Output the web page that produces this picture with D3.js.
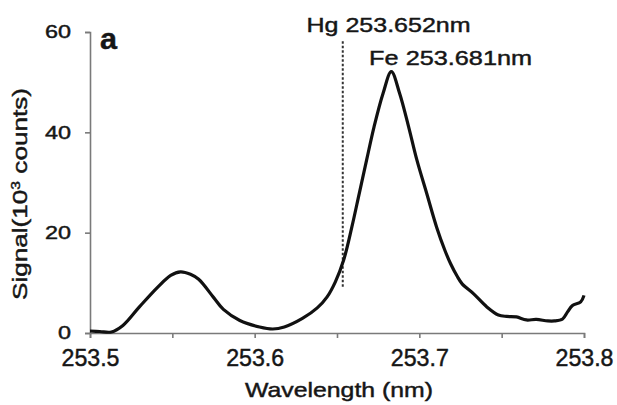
<!DOCTYPE html>
<meta charset="utf-8">
<head>
  <script src="https://d3js.org/d3.v7.min.js"></script>
  <style>
    body { margin: 0; background: #fff; }
    svg { display: block; font-family: "Liberation Sans", Arial, sans-serif; }
    text { fill: #161616; stroke: #161616; stroke-width: 0.45px; }
  </style>
</head>
<body>
<div id="chart"></div>
<script>

// wavelength (nm) and signal (10^3 counts)
var wavelength = [253.500, 253.506, 253.513, 253.520, 253.530, 253.541, 253.549, 253.555,
                  253.561, 253.566, 253.575, 253.581, 253.591, 253.603, 253.611, 253.618,
                  253.629, 253.638, 253.644, 253.649, 253.654, 253.659, 253.6635, 253.668, 253.6725,
                  253.678, 253.683, 253.688, 253.6935, 253.6985, 253.7045, 253.7105, 253.7155,
                  253.719, 253.723, 253.726, 253.733, 253.741, 253.748, 253.753, 253.759,
                  253.765, 253.771, 253.778, 253.782, 253.787, 253.790, 253.793, 253.798,
                  253.800];
var signal     = [0.4, 0.3, 0.2, 1.5, 5.2, 9.1, 11.5, 12.2,
                  11.7, 10.7, 7.1, 4.7, 2.5, 1.2, 0.8, 1.2,
                  2.9, 5.0, 7.2, 10.2, 14.5, 21.1, 27.8, 34.5, 41.1,
                  47.8, 52.1, 47.8, 41.1, 34.5, 27.8, 21.1, 16.5,
                  13.8, 11.3, 9.8, 7.8, 5.2, 3.6, 3.3, 3.2,
                  2.6, 2.7, 2.4, 2.4, 2.8, 4.2, 5.5, 6.2,
                  7.5];

var xTicks = [253.5, 253.55, 253.6, 253.65, 253.7, 253.75, 253.8];
var yTicks = [0, 20, 40, 60];

// Hg line marker: wavelength and vertical extent
var hgLine = {w: 253.6535, from: 9.2, to: 58.4};
var labels = [
  {text: "Hg 253.652nm", w: 253.6315, v: 60.0, len: 164},
  {text: "Fe 253.681nm", w: 253.6695, v: 53.5, len: 163}
];

var width = 617, height = 405;
var margin = {top: 32, right: 33, bottom: 72, left: 90};

var svg = d3.select("#chart")
  .append("svg")
    .attr("width", width)
    .attr("height", height);

var x = d3.scaleLinear()
  .domain([253.5, 253.8])
  .range([margin.left, width - margin.right]);

var y = d3.scaleLinear()
  .domain([0, 60])
  .range([height - margin.bottom, margin.top]);

// X axis
var gx = svg.append("g")
  .attr("transform", "translate(0," + y(0) + ")")
  .call(d3.axisBottom(x)
    .tickValues(xTicks)
    .tickSize(5)
    .tickPadding(12)
    .tickFormat(function(d) { return Math.round(d * 100) % 10 === 0 ? d3.format(".1f")(d) : ""; }));
gx.select(".domain").attr("stroke", "#7a7a7a").attr("stroke-width", 1.6);
gx.selectAll(".tick line").attr("stroke", "#7a7a7a").attr("stroke-width", 1.6);
gx.selectAll(".tick text")
  .style("font-size", "23px")
  .attr("textLength", function(d) { return Math.round(d * 100) % 10 === 0 ? 58 : null; })
  .attr("lengthAdjust", "spacingAndGlyphs");

// Y axis
var gy = svg.append("g")
  .attr("transform", "translate(" + x(253.5) + ",0)")
  .call(d3.axisLeft(y)
    .tickValues(yTicks)
    .tickSize(5)
    .tickPadding(14));
gy.select(".domain").attr("stroke", "#7a7a7a").attr("stroke-width", 1.6);
gy.selectAll(".tick line").attr("stroke", "#7a7a7a").attr("stroke-width", 1.6);
gy.selectAll(".tick text")
  .style("font-size", "18px")
  .attr("textLength", function(d) { return d === 0 ? 13 : 26; })
  .attr("lengthAdjust", "spacingAndGlyphs");

// axis titles
svg.append("text")
  .attr("x", 339)
  .attr("y", 397)
  .attr("text-anchor", "middle")
  .attr("textLength", 188)
  .attr("lengthAdjust", "spacingAndGlyphs")
  .style("font-size", "21px")
  .text("Wavelength (nm)");

var ylab = svg.append("text")
  .attr("transform", "translate(27,194) rotate(-90)")
  .attr("text-anchor", "middle")
  .attr("textLength", 212)
  .attr("lengthAdjust", "spacingAndGlyphs")
  .style("font-size", "20px");
ylab.append("tspan").text("Signal(10");
ylab.append("tspan").attr("dy", -7).style("font-size", "12px").text("3");
ylab.append("tspan").attr("dy", 7).text(" counts)");

// panel letter
svg.append("text")
  .attr("x", 100)
  .attr("y", 49)
  .attr("textLength", 17)
  .attr("lengthAdjust", "spacingAndGlyphs")
  .style("font-size", "30px")
  .style("font-weight", "bold")
  .text("a");

// Hg dashed marker
svg.append("line")
  .attr("x1", x(hgLine.w)).attr("x2", x(hgLine.w))
  .attr("y1", y(hgLine.from)).attr("y2", y(hgLine.to))
  .attr("stroke", "#333")
  .attr("stroke-width", 2)
  .attr("stroke-dasharray", "2.5,2");

// spectrum
var pts = wavelength.map(function(w, i) { return [w, signal[i]]; });
svg.append("path")
  .datum(pts)
  .attr("fill", "none")
  .attr("stroke", "#111")
  .attr("stroke-width", 3.2)
  .attr("stroke-linejoin", "round")
  .attr("d", d3.line()
    .x(function(d) { return x(d[0]); })
    .y(function(d) { return y(d[1]); })
    .curve(d3.curveCatmullRom));

// line labels
svg.selectAll(".lbl")
  .data(labels)
  .enter()
  .append("text")
    .attr("class", "lbl")
    .attr("x", function(d) { return x(d.w); })
    .attr("y", function(d) { return y(d.v); })
    .attr("textLength", function(d) { return d.len; })
    .attr("lengthAdjust", "spacingAndGlyphs")
    .style("font-size", "21px")
    .text(function(d) { return d.text; });

</script>
</body>
